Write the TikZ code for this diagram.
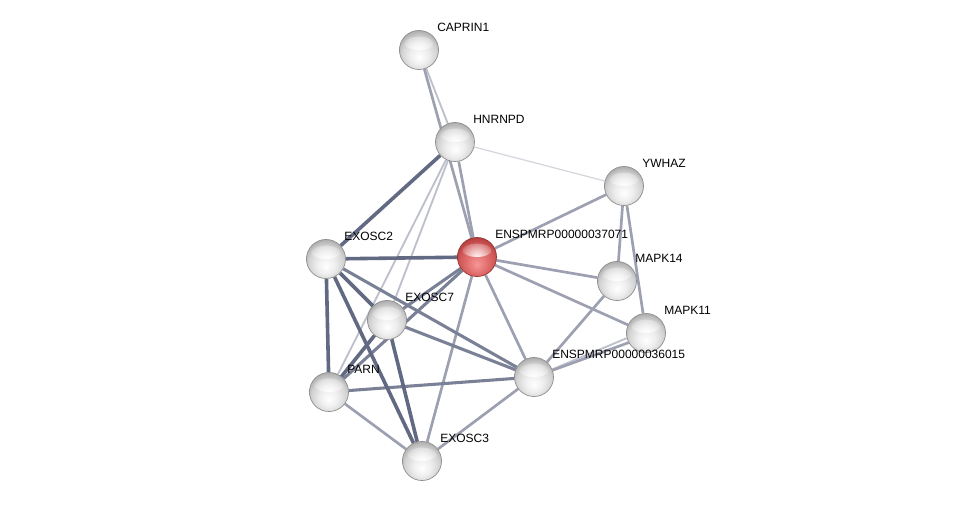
\documentclass[tikz,border=0pt]{standalone}
\usepackage{fontspec}
\setmainfont{Liberation Sans}
\usetikzlibrary{backgrounds,fadings}
\definecolor{edge}{RGB}{84,92,120}
\definecolor{ballrim}{RGB}{140,140,140}
\definecolor{redrim}{RGB}{150,50,50}
\definecolor{redhi}{RGB}{246,150,150}
\definecolor{redmid}{RGB}{228,115,115}
\definecolor{redlo}{RGB}{208,88,88}
\definecolor{reddk}{RGB}{176,60,60}
\pgfdeclareradialshading{greyball}{\pgfpoint{0bp}{-10bp}}{color(0bp)=(white); color(12bp)=(black!7); color(22bp)=(black!17); color(30bp)=(black!34); color(50bp)=(black!34)}
\pgfdeclareradialshading{redball}{\pgfpoint{0bp}{-10bp}}{color(0bp)=(redhi); color(12bp)=(redmid); color(22bp)=(redlo); color(30bp)=(reddk); color(50bp)=(reddk)}
\tikzfading[name=glow, inner color=transparent!0, outer color=transparent!100]

\begin{document}
\begin{tikzpicture}[x=0.75pt, y=-0.75pt, font=\fontsize{9}{10}\selectfont]
  \tikzstyle{ball}=[circle, minimum size=29.3pt, inner sep=0pt, draw=ballrim, line width=0.5pt,
                    shading=greyball,
                    path picture={\fill[white, opacity=0.9, path fading=glow] ([yshift=5pt]path picture bounding box.center) ellipse (11pt and 5pt);}]
  \tikzstyle{query}=[ball, draw=redrim, shading=redball]
  \tikzstyle{lbl}=[inner sep=3pt]
  \tikzstyle{conf0}=[line width=0.9pt, color=edge!25]
  \tikzstyle{conf1}=[line width=1.4pt, color=edge!38]
  \tikzstyle{conf2}=[line width=2pt, color=edge!58]
  \tikzstyle{conf3}=[line width=2.3pt, color=edge!78]
  \tikzstyle{conf4}=[line width=2.7pt, color=edge!92]
  \useasboundingbox (0,0) rectangle (976,506);
  % proteins
  \node[ball, label={[lbl]45:CAPRIN1}](caprin1) at (419,50) {};
  \node[ball, label={[lbl]45:HNRNPD}](hnrnpd) at (455,142) {};
  \node[ball, label={[lbl]45:YWHAZ}](ywhaz) at (624,186) {};
  \node[ball, label={[lbl]45:EXOSC2}](exosc2) at (326,259) {};
  \node[query, label={[lbl]45:ENSPMRP00000037071}](q37071) at (477,257) {};
  \node[ball, label={[lbl]45:MAPK14}](mapk14) at (617,281) {};
  \node[ball, label={[lbl]45:EXOSC7}](exosc7) at (387,320) {};
  \node[ball, label={[lbl]45:MAPK11}](mapk11) at (646,333) {};
  \node[ball, label={[lbl]45:ENSPMRP00000036015}](q36015) at (534,377) {};
  \node[ball, label={[lbl]45:PARN}](parn) at (329,392) {};
  \node[ball, label={[lbl]45:EXOSC3}](exosc3) at (422,461) {};
  % interactions, behind the balls
  \begin{pgfonlayer}{background}
    \fill[white] (0,0) rectangle (976,506);
    \draw[conf0](hnrnpd)--(ywhaz);
    \draw[conf1](caprin1)--(hnrnpd); \draw[conf1](hnrnpd)--(parn);
    \draw[conf1](hnrnpd)--(exosc7); \draw[conf1](q36015)--(mapk11.195);
    \draw[conf2](caprin1)--(q37071); \draw[conf2](hnrnpd)--(q37071);
    \draw[conf2](q37071)--(ywhaz); \draw[conf2](q37071)--(mapk14);
    \draw[conf2](q37071)--(mapk11); \draw[conf2](q37071)--(q36015);
    \draw[conf2](q37071)--(exosc3); \draw[conf2](parn)--(exosc3);
    \draw[conf2](exosc3)--(q36015); \draw[conf2](q36015)--(mapk14);
    \draw[conf2](q36015)--(mapk11.209); \draw[conf2](ywhaz)--(mapk14);
    \draw[conf2](ywhaz)--(mapk11);
    \draw[conf3](exosc2)--(q36015); \draw[conf3](exosc7)--(q36015);
    \draw[conf3](exosc7)--(q37071); \draw[conf3](parn)--(q37071);
    \draw[conf3](parn)--(q36015);
    \draw[conf4](exosc2)--(hnrnpd); \draw[conf4](exosc2)--(q37071);
    \draw[conf4](exosc2)--(parn); \draw[conf4](exosc2)--(exosc7);
    \draw[conf4](exosc2)--(exosc3); \draw[conf4](exosc7)--(parn);
    \draw[conf4](exosc7)--(exosc3);
  \end{pgfonlayer}
\end{tikzpicture}
\end{document}
